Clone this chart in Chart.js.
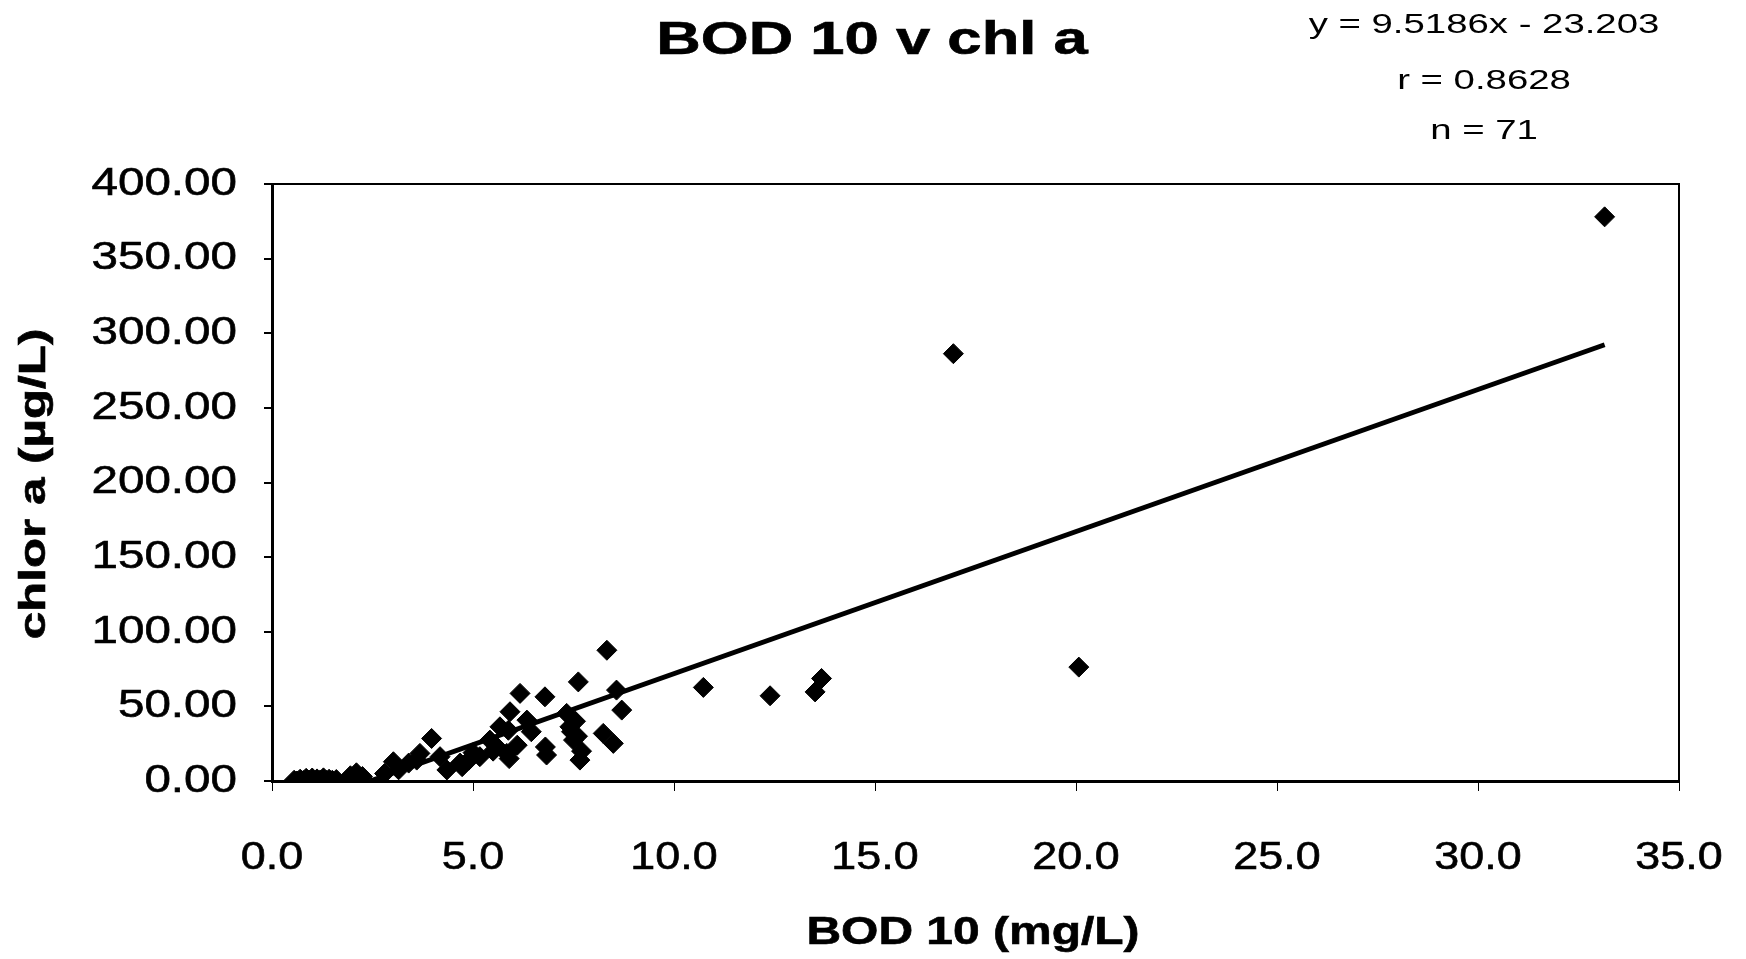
<!DOCTYPE html>
<html><head><meta charset="utf-8">
<script src="https://cdn.jsdelivr.net/npm/chart.js@4.4.1/dist/chart.umd.min.js"></script>
<style>html,body{margin:0;padding:0;background:#fff;} canvas{display:block;}</style>
</head><body>
<canvas id="c" width="1746" height="959"></canvas>
<script>
const chartTitle = 'BOD 10 v chl a';
const statLines = ['y = 9.5186x - 23.203', 'r = 0.8628', 'n = 71'];
const xAxisTitle = 'BOD 10 (mg/L)';
const yAxisTitle = 'chlor a (µg/L)';
const xTickLabels = ['0.0','5.0','10.0','15.0','20.0','25.0','30.0','35.0'];
const yTickLabels = ['0.00','50.00','100.00','150.00','200.00','250.00','300.00','350.00','400.00'];

const bodValues = [
  0.55,0.62,0.70,0.78,0.85,0.92,1.00,1.05,1.12,1.20,1.28,1.35,1.42,1.50,1.10,0.95,
  1.95,2.10,2.25,2.05,
  2.80,3.15,3.40,3.60,
  3.97,3.68,3.02,4.35,4.18,4.68,5.17,5.59,5.88,4.73,
  8.33,7.62,6.17,6.79,5.92,8.70,8.57,6.34,5.84,5.42,6.83,6.80,7.41,7.50,7.66,7.33,8.24,8.49,5.67,
  5.50,5.90,6.10,
  7.55,7.60,7.70,
  10.73,12.39,13.51,13.67,16.95,20.07,33.15,
  4.90,5.00,6.45,7.45,1.60
];
const chlValues = [
  0.5,0.0,1.2,0.3,1.8,0.6,2.0,0.2,1.4,0.7,2.1,0.4,1.2,0.5,0.0,0.1,
  3.5,5.5,3.0,1.5,
  5.0,7.5,12.0,14.0,
  28.5,18.5,12.9,7.4,16.3,12.0,16.3,23.0,34.0,9.6,
  87.6,66.4,58.7,56.4,46.4,47.5,60.9,40.8,18.5,27.4,17.4,22.8,36.3,27.4,14.0,45.3,31.9,25.2,36.3,
  20.0,15.0,24.0,
  40.0,30.0,20.0,
  62.7,57.1,59.7,68.7,286.3,76.3,378.0,
  14.0,19.0,33.0,33.0,1.0
];
const trendX = [2.44, 33.15];
const trendY = [0, 292.3];

const points = bodValues.map((x, i) => ({x: x, y: chlValues[i]}));
const trend = trendX.map((x, i) => ({x: x, y: trendY[i]}));

function drawStretched(ctx, text, x, y, font, sx, align, baseline, rot, stroke) {
  ctx.save();
  ctx.translate(x, y);
  if (rot) ctx.rotate(rot);
  ctx.scale(sx, 1);
  ctx.font = font;
  ctx.textAlign = align;
  ctx.textBaseline = baseline;
  ctx.fillStyle = '#000';
  ctx.strokeStyle = '#000';
  ctx.lineWidth = 0.6;
  ctx.fillText(text, 0, 0);
  if (stroke) ctx.strokeText(text, 0, 0);
  ctx.restore();
}

const textPlugin = {
  id: 'texts',
  beforeDatasetsDraw(chart) {
    const ctx = chart.ctx, a = chart.chartArea;
    ctx.save();
    ctx.strokeStyle = '#000';
    ctx.lineWidth = 2;
    ctx.strokeRect(a.left, a.top, a.right - a.left, a.bottom - a.top);
    ctx.restore();
  },
  afterDraw(chart) {
    const ctx = chart.ctx;
    const xs = chart.scales.x, ys = chart.scales.y;
    const F = '"Liberation Sans", Arial, sans-serif';
    drawStretched(ctx, chartTitle, 872, 54, 'bold 46px ' + F, 1.34, 'center', 'alphabetic', 0, true);
    const statBase = [33, 89, 139];
    statLines.forEach((s, i) => drawStretched(ctx, s, 1484, statBase[i], '27px ' + F, 1.42, 'center', 'alphabetic', 0, false));
    yTickLabels.forEach(l => {
      const py = ys.getPixelForValue(parseFloat(l));
      drawStretched(ctx, l, 237, py, '39px ' + F, 1.22, 'right', 'middle', 0, true);
    });
    xTickLabels.forEach(l => {
      const px = xs.getPixelForValue(parseFloat(l));
      drawStretched(ctx, l, px, 869, '39px ' + F, 1.15, 'center', 'alphabetic', 0, true);
    });
    drawStretched(ctx, xAxisTitle, 973, 944, 'bold 39px ' + F, 1.23, 'center', 'alphabetic', 0, true);
    drawStretched(ctx, yAxisTitle, 35, 484, 'bold 36px ' + F, 1.37, 'center', 'middle', -Math.PI / 2, true);
  }
};

new Chart(document.getElementById('c'), {
  type: 'scatter',
  data: {
    datasets: [
      {
        type: 'line',
        data: trend,
        borderColor: '#000',
        borderWidth: 5,
        pointRadius: 0,
        fill: false,
        tension: 0
      },
      {
        data: points,
        pointStyle: 'rectRot',
        pointRadius: 10,
        pointBackgroundColor: '#000',
        pointBorderColor: '#000',
        pointBorderWidth: 1
      }
    ]
  },
  options: {
    responsive: false,
    animation: false,
    devicePixelRatio: 1,
    layout: { padding: { left: 264, right: 67, top: 184, bottom: 168 } },
    plugins: { legend: { display: false }, tooltip: { enabled: false }, title: { display: false } },
    scales: {
      x: {
        type: 'linear', min: 0, max: 35,
        ticks: { display: false, stepSize: 5 },
        grid: { display: true, drawOnChartArea: false, drawTicks: true, tickLength: 10, color: '#000', lineWidth: 1 },
        border: { display: true, color: '#000', width: 3 }
      },
      y: {
        type: 'linear', min: 0, max: 400,
        ticks: { display: false, stepSize: 50 },
        grid: { display: true, drawOnChartArea: false, drawTicks: true, tickLength: 8, color: '#000', lineWidth: 2 },
        border: { display: true, color: '#000', width: 3 }
      }
    }
  },
  plugins: [textPlugin]
});
</script>
</body></html>
